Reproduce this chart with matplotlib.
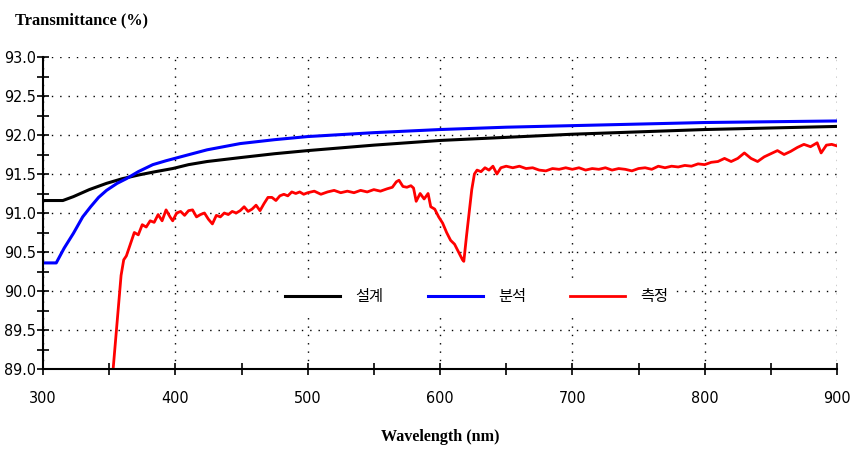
import matplotlib
matplotlib.use("Agg")
import matplotlib.pyplot as plt
from matplotlib.ticker import MultipleLocator

# data
wl_design = [300, 315, 323, 335, 348, 360, 373, 385, 398, 410, 424, 449, 475, 500,
             550, 600, 650, 700, 750, 800, 850, 900]
t_design = [91.16, 91.16, 91.21, 91.30, 91.38, 91.44, 91.49, 91.53, 91.57, 91.62, 91.66,
            91.71, 91.76, 91.80, 91.87, 91.93, 91.97, 92.01, 92.04, 92.07, 92.09, 92.11]

wl_analysis = [300, 310, 316, 323, 330, 336, 342, 348, 356, 363, 372, 383, 393, 404, 424,
               449, 475, 500, 550, 600, 650, 700, 750, 800, 850, 900]
t_analysis = [90.36, 90.36, 90.55, 90.74, 90.95, 91.08, 91.20, 91.29, 91.38, 91.44, 91.53,
              91.62, 91.67, 91.72, 91.81, 91.89, 91.94, 91.98, 92.03, 92.07, 92.10, 92.12,
              92.14, 92.16, 92.17, 92.18]

wl_meas = [353, 355, 357, 359, 361, 363, 366, 369, 372, 375, 378, 381, 384, 387, 390, 393,
           396, 398, 401, 404, 407, 410, 413, 416, 419, 422, 425, 428, 431, 434, 437, 440,
           443, 446, 449, 452, 455, 458, 461, 464, 467, 470, 473, 476, 479, 482, 485, 488,
           491, 494, 497, 500, 505, 510, 515, 520, 525, 530, 535, 540, 545, 550, 555, 560,
           564, 567, 569, 572, 575, 578, 580, 582, 585, 588, 591, 593, 596, 599, 602, 605,
           608, 611, 614, 617, 618, 620, 622, 624, 626, 628, 631, 634, 637, 640, 643, 646,
           650, 655, 660, 665, 670, 675, 680, 685, 690, 695, 700, 705, 710, 715, 720, 725,
           730, 735, 740, 745, 750, 755, 760, 765, 770, 775, 780, 785, 790, 795, 800, 805,
           810, 815, 820, 825, 830, 835, 840, 845, 850, 855, 860, 865, 870, 875, 880, 885,
           888, 892, 896, 900]
t_meas = [89.00, 89.40, 89.80, 90.20, 90.40, 90.45, 90.60, 90.75, 90.72, 90.85, 90.82, 90.90,
          90.88, 90.98, 90.90, 91.04, 90.95, 90.90, 91.00, 91.02, 90.97, 91.03, 91.04, 90.95,
          90.98, 91.00, 90.92, 90.86, 90.97, 90.95, 91.00, 90.98, 91.02, 91.00, 91.03, 91.08,
          91.02, 91.05, 91.10, 91.03, 91.12, 91.20, 91.20, 91.16, 91.22, 91.24, 91.22, 91.27,
          91.25, 91.27, 91.24, 91.26, 91.28, 91.24, 91.27, 91.29, 91.26, 91.28, 91.26, 91.29,
          91.27, 91.30, 91.28, 91.31, 91.33, 91.40, 91.42, 91.34, 91.33, 91.35, 91.32, 91.15,
          91.25, 91.18, 91.25, 91.08, 91.05, 90.95, 90.87, 90.75, 90.65, 90.60, 90.50, 90.40,
          90.38, 90.70, 91.00, 91.30, 91.50, 91.55, 91.53, 91.58, 91.55, 91.60, 91.50, 91.58,
          91.60, 91.58, 91.60, 91.57, 91.58, 91.55, 91.54, 91.57, 91.56, 91.58, 91.56, 91.58,
          91.55, 91.57, 91.56, 91.58, 91.55, 91.57, 91.56, 91.54, 91.57, 91.58, 91.56, 91.60,
          91.58, 91.60, 91.59, 91.61, 91.60, 91.63, 91.62, 91.65, 91.66, 91.70, 91.66, 91.70,
          91.77, 91.70, 91.66, 91.72, 91.76, 91.80, 91.75, 91.79, 91.84, 91.88, 91.85, 91.90,
          91.77, 91.87, 91.88, 91.86]

labels = ['설계', '분석', '측정']
colors = ['black', '#0000ff', '#ff0000']

fig = plt.figure(figsize=(8.51, 4.49), dpi=100)
ax = fig.add_axes([43/851, 80/449, 794/851, 312/449])

ax.plot(wl_design, t_design, color=colors[0], lw=2.2, label=labels[0])
ax.plot(wl_analysis, t_analysis, color=colors[1], lw=2.2, label=labels[1])
ax.plot(wl_meas, t_meas, color=colors[2], lw=2, label=labels[2])

ax.set_xlim(300, 900)
ax.set_ylim(89.0, 93.0)
ax.xaxis.set_major_locator(MultipleLocator(100))
ax.xaxis.set_minor_locator(MultipleLocator(50))
ax.yaxis.set_major_locator(MultipleLocator(0.5))
ax.yaxis.set_minor_locator(MultipleLocator(0.25))
ax.yaxis.set_major_formatter(plt.FormatStrFormatter('%.1f'))

ax.grid(True, which='major', color='black', linestyle=(0, (1, 5)), lw=1)
ax.set_axisbelow(True)
for s in ['top', 'right']:
    ax.spines[s].set_visible(False)
ax.spines['left'].set_linewidth(1.5)
ax.spines['bottom'].set_linewidth(1.5)

ax.tick_params(which='both', direction='inout', width=1.2, length=8)
ax.tick_params(axis='x', pad=12)
ax.tick_params(axis='y', pad=1)
for lab in ax.get_xticklabels() + ax.get_yticklabels():
    lab.set_fontfamily('DejaVu Sans')
    lab.set_fontstretch('condensed')
    lab.set_fontsize(11.5)

fig.text(15/851, 1 - 20/449, 'Transmittance (%)', family='Liberation Serif',
         weight='bold', fontsize=11.8, ha='left', va='center')
fig.text(440/851, 1 - 437/449, 'Wavelength (nm)', family='Liberation Serif',
         weight='bold', fontsize=11.6, ha='center', va='center')

leg = ax.legend(loc='center', bbox_to_anchor=((477 - 43)/794, (369 - 297)/312),
                ncol=3, frameon=True, handlelength=3.6, columnspacing=2.9, handletextpad=1.0,
                prop={'family': ['Noto Sans CJK KR', 'DejaVu Sans'], 'size': 11})
leg.get_frame().set_edgecolor('none')
leg.get_frame().set_facecolor('white')
leg.get_frame().set_alpha(1)

fig.savefig('out.png', dpi=100)
